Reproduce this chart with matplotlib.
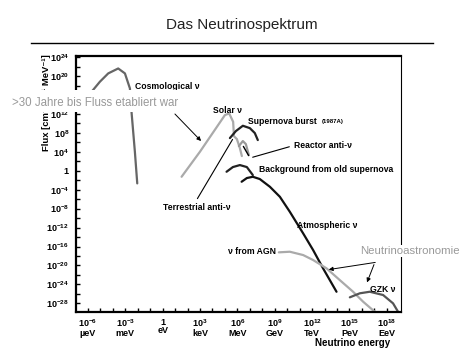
import matplotlib
matplotlib.use("Agg")
import matplotlib.pyplot as plt
import numpy as np
from matplotlib import ticker
from matplotlib.patches import Rectangle

plt.rcParams["font.family"] = ["Liberation Sans", "DejaVu Sans"]
plt.rcParams["mathtext.fontset"] = "custom"
plt.rcParams["mathtext.rm"] = "Liberation Sans"
plt.rcParams["mathtext.bf"] = "Liberation Sans:bold"

# Werte als log10(E / eV) und log10(Flux)
cosmo_logE = [-5.70, -5.04, -4.37, -3.57, -3.03, -2.63, -2.49, -2.23, -2.04]
cosmo_logF = [16.7, 18.8, 20.56, 21.6, 20.56, 17.4, 12.1, 4.0, -2.67]

solar_logE = [1.52, 2.99, 5.00, 5.34, 5.66, 5.72]
solar_logF = [-1.27, 4.0, 11.76, 12.1, 10.34, 7.53]

sn_logE = [5.40, 5.88, 6.44, 7.00, 7.40, 7.64]
sn_logF = [6.9, 8.38, 9.5, 9.0, 7.96, 6.48]

terr_logE = [5.72, 5.96, 6.20, 6.36]
terr_logF = [7.32, 6.69, 4.79, 3.1]

reactor_logE = [6.12, 6.44, 6.68, 6.92]
reactor_logF = [5.21, 6.27, 5.63, 3.31]

bg_logE = [5.13, 5.64, 6.20, 6.76, 7.24]
bg_logF = [-0.21, 0.78, 1.2, 0.78, -0.91]

atmo_logE = [6.34, 6.76, 7.24, 7.80, 8.61, 9.41, 10.21, 11.28, 12.08, 12.88, 13.96]
atmo_logF = [-2.32, -1.54, -1.27, -1.75, -3.38, -5.49, -8.66, -13.22, -16.74, -20.61, -25.55]

agn_logE = [9.33, 10.21, 11.28, 12.08, 13.16, 14.22, 15.29, 16.10, 17.03]
agn_logF = [-17.23, -17.1, -17.8, -18.85, -20.61, -23.08, -25.55, -27.66, -29.77]

gzk_logE = [15.03, 15.83, 16.63, 17.70, 18.50, 18.90]
gzk_logF = [-26.73, -25.88, -25.55, -26.24, -28.0, -29.77]

x_tick_exp = [-6, -3, 0, 3, 6, 9, 12, 15, 18]
x_tick_units = ["µeV", "meV", "eV", "keV", "MeV", "GeV", "TeV", "PeV", "EeV"]
y_tick_exp = list(range(-28, 25, 4))

W, H = 469, 352


def fp(x, y):
    # Pixelposition -> Figure fraction
    return (x / W, 1 - y / H)


fig = plt.figure(figsize=(W / 100, H / 100), dpi=100)
ax = fig.add_axes([0.162, 0.1136, 0.692, 0.727])

curves = [
    (cosmo_logE, cosmo_logF, "#666666"),
    (solar_logE, solar_logF, "#aaaaaa"),
    (terr_logE, terr_logF, "#aaaaaa"),
    (reactor_logE, reactor_logF, "#999999"),
    (sn_logE, sn_logF, "#222222"),
    (bg_logE, bg_logF, "#222222"),
    (atmo_logE, atmo_logF, "#111111"),
    (agn_logE, agn_logF, "#aaaaaa"),
    (gzk_logE, gzk_logF, "#555555"),
]
for le, lf, c in curves:
    ax.plot(10.0 ** np.array(le), 10.0 ** np.array(lf), color=c, lw=1.6,
            solid_capstyle="round")

ax.set_xscale("log")
ax.set_yscale("log")
ax.set_xlim(10 ** -6.96, 10 ** 19.1)
ax.set_ylim(10 ** -29.83, 10 ** 24.21)

ax.xaxis.set_major_locator(ticker.FixedLocator(10.0 ** np.array(x_tick_exp)))
ax.xaxis.set_minor_locator(ticker.FixedLocator(10.0 ** np.arange(-6, 19)))
ax.set_xticklabels([("$\\mathbf{10^{%d}}$" % e if e != 0 else "1") + "\n" + u
                    for e, u in zip(x_tick_exp, x_tick_units)])
ax.xaxis.set_minor_formatter(ticker.NullFormatter())

ax.yaxis.set_major_locator(ticker.FixedLocator(10.0 ** np.array(y_tick_exp, dtype=float)))
ax.yaxis.set_minor_locator(ticker.FixedLocator(10.0 ** np.arange(-28, 25, 2, dtype=float)))
ax.set_yticklabels([r"$\mathbf{10^{%d}}$" % e if e != 0 else "1" for e in y_tick_exp])
ax.yaxis.set_minor_formatter(ticker.NullFormatter())

ax.tick_params(which="both", direction="in", width=1.0, labelsize=6.5, length=3)
ax.tick_params(axis="y", pad=5)
ax.tick_params(axis="x", pad=4)
for lab in ax.get_xticklabels() + ax.get_yticklabels():
    lab.set_fontweight("bold")
    lab.set_linespacing(0.95)

for s in ["left", "bottom", "top"]:
    ax.spines[s].set_linewidth(1.6)
ax.spines["right"].set_linewidth(0.8)

# Titel und Linie
fig.text(*fp(242, 25), "Das Neutrinospektrum", ha="center", va="center",
         fontsize=11, color="#222222")
fig.add_artist(plt.Line2D([31 / W, 433 / W], [1 - 43 / H, 1 - 43 / H], color="k", lw=1.0))

fig.text(*fp(46, 54), "Flux [cm⁻² s⁻¹ MeV⁻¹]", rotation=90, ha="center", va="top",
         fontsize=6.8, fontweight="bold")
fig.text(*fp(390, 343), "Neutrino energy", ha="right", va="center", fontsize=7,
         fontweight="bold")

labels = [
    (135, 86.5, "Cosmological ν"),
    (213, 110.5, "Solar ν"),
    (248, 121.5, "Supernova burst"),
    (294, 145.5, "Reactor anti-ν"),
    (259, 170, "Background from old supernova"),
    (163, 207.5, "Terrestrial anti-ν"),
    (297, 225, "Atmospheric ν"),
    (228, 252, "ν from AGN"),
    (370, 289.5, "GZK ν"),
]
for x, y, t in labels:
    fig.text(*fp(x, y), t, ha="left", va="center", fontsize=6.2, fontweight="bold")
fig.text(*fp(322, 121.5), "(1987A)", ha="left", va="center", fontsize=4.3, fontweight="bold")

line_kw = dict(xycoords="figure fraction", textcoords="figure fraction",
               annotation_clip=False)
ax.annotate("", xy=fp(234, 137), xytext=fp(196, 201),
            arrowprops=dict(arrowstyle="-", color="k", lw=0.8), **line_kw)
ax.annotate("", xy=fp(250, 158), xytext=fp(292, 146),
            arrowprops=dict(arrowstyle="-", color="k", lw=0.8), **line_kw)
ax.annotate("", xy=fp(242, 144), xytext=fp(250, 158),
            arrowprops=dict(arrowstyle="-", color="k", lw=1.0), **line_kw)

# Einblendungen
fig.add_artist(Rectangle(fp(0, 112), 185 / W, 22 / H, transform=fig.transFigure,
                         facecolor="white", edgecolor="none", zorder=4))
fig.text(*fp(12, 103), ">30 Jahre bis Fluss etabliert war", ha="left", va="center",
         fontsize=8.3, color="#999999", zorder=5)
ax.annotate("", xy=fp(203, 143), xytext=fp(173, 112),
            arrowprops=dict(arrowstyle="-|>", color="k", lw=0.7, mutation_scale=6),
            **line_kw)

fig.text(*fp(360, 251), "Neutrinoastronomie", ha="left", va="center", fontsize=8.2,
         color="#999999", zorder=5,
         bbox=dict(facecolor="white", edgecolor="none", pad=1))
ax.annotate("", xy=fp(326, 270), xytext=fp(378, 262),
            arrowprops=dict(arrowstyle="-|>", color="k", lw=0.7, mutation_scale=6),
            **line_kw)
ax.annotate("", xy=fp(366, 285), xytext=fp(375, 262),
            arrowprops=dict(arrowstyle="-|>", color="k", lw=0.7, mutation_scale=6),
            **line_kw)

fig.savefig("out.png", dpi=100)
